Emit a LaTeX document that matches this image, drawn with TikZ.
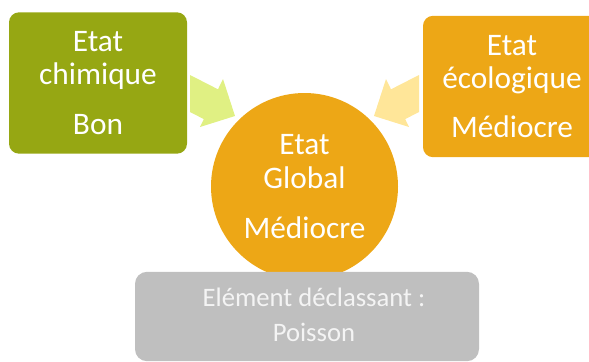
\documentclass[tikz,border=0pt]{standalone}
\usepackage{fontspec}
\setmainfont{Carlito}
\usetikzlibrary{calc}
\definecolor{mOlive}{HTML}{96A713}
\definecolor{mAmber}{HTML}{EDA716}
\definecolor{mLime}{HTML}{E0F083}
\definecolor{mCream}{HTML}{FFE699}
\definecolor{mGrey}{HTML}{BFBFBF}
\definecolor{mGreyText}{HTML}{F4F4F4}

\begin{document}
\begin{tikzpicture}[
    x=0.75pt, y=-0.75pt,
    box/.style={rounded corners=7.5pt, inner sep=0pt, outer sep=0pt, align=center, text=white,
        minimum width=133.5pt, minimum height=106pt, font=\fontsize{23.5}{25}\selectfont},
    chimbox/.style={box, fill=mOlive},
    ecobox/.style={box, fill=mAmber},
    globe/.style={circle, fill=mAmber, inner sep=0pt, outer sep=0pt, minimum size=140.25pt,
        align=center, text=white, font=\fontsize{23.5}{25.5}\selectfont},
    note/.style={rounded corners=9pt, fill=mGrey, inner sep=0pt, outer sep=0pt,
        minimum width=258pt, minimum height=67pt},
    notetext/.style={text=mGreyText, align=center, font=\fontsize{20}{26.25}\selectfont},
    blockarr/.style={draw=none}
]
    \useasboundingbox (0,0) rectangle (589,361);
    \clip (0,0) rectangle (589,361);

    % les deux etats en haut
    \node[chimbox] (chim) at (98,83) {Etat\\chimique\\[12.5pt]Bon};
    \node[ecobox] (eco) at (512,86.5) {Etat\\écologique\\[12pt]Médiocre};

    % fleches vers le cercle
    \begin{scope}[shift={(chim.east)}]
        \fill[blockarr, mLime] (3,-8) -- (31,6.3) -- (36,-4) -- (48,33) -- (13,44) -- (16.8,36.1) -- (3,29) -- cycle;
    \end{scope}
    \begin{scope}[shift={(eco.west)}]
        \fill[blockarr, mCream] (-4,-11.5) -- (-32,2.8) -- (-37,-7.5) -- (-49,29.5) -- (-14,40.5) -- (-17.8,32.6) -- (-4,25.5) -- cycle;
    \end{scope}

    % etat global et element declassant
    \node[globe] (glob) at (304.5,186.5) {Etat\\Global\\[12.5pt]Médiocre};
    \node[note] (decl) at (307,316.5) {};
    \node[notetext] (decltxt) at ($(decl)+(7,-2)$) {Elément déclassant :\\Poisson};
\end{tikzpicture}
\end{document}
